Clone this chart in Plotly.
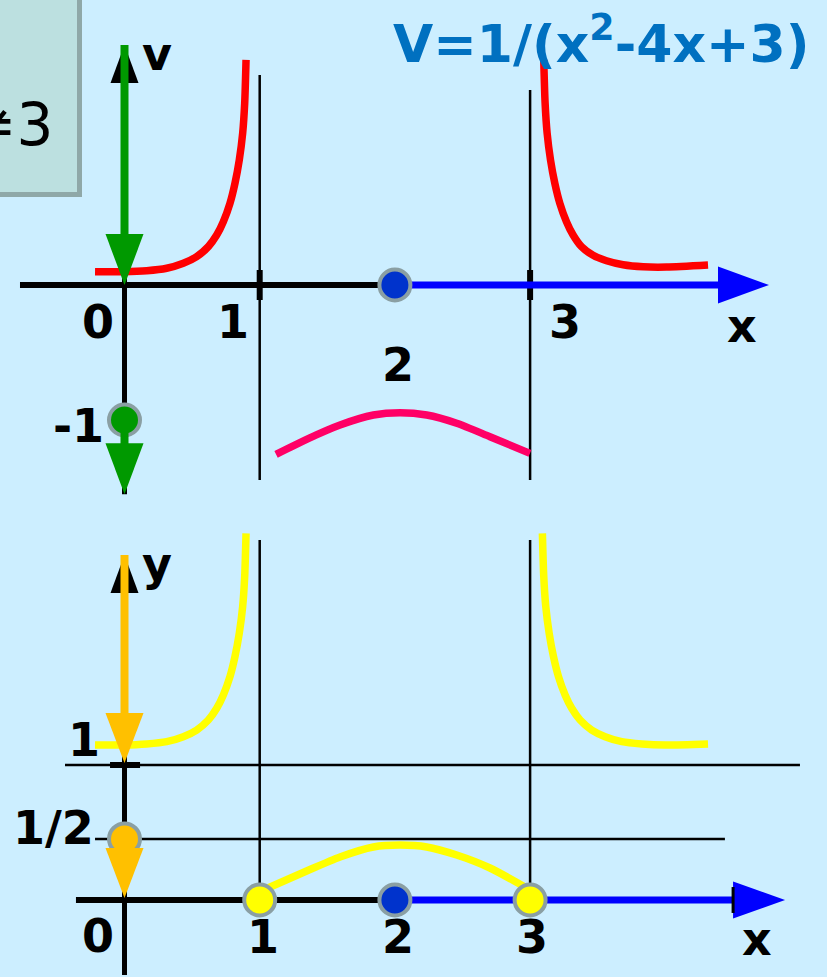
import plotly.graph_objects as go

# ---------------- data (math units) ----------------
asymptotes = [1, 3]
zero_x = 2

red_left_x = [-0.218, -0.009, 0.164, 0.312, 0.435, 0.534, 0.620, 0.682, 0.731, 0.780,
              0.817, 0.849, 0.874, 0.889, 0.899]
red_left_v = [0.099, 0.099, 0.106, 0.124, 0.161, 0.210, 0.284, 0.370, 0.469, 0.605,
              0.753, 0.926, 1.124, 1.346, 1.667]

red_right_x = [3.101, 3.111, 3.126, 3.151, 3.183, 3.220, 3.269, 3.318, 3.380, 3.466,
               3.565, 3.688, 3.836, 4.009, 4.316]
red_right_v = [1.667, 1.346, 1.124, 0.926, 0.753, 0.605, 0.469, 0.370, 0.284, 0.220,
               0.180, 0.150, 0.135, 0.133, 0.148]

pink_x = [1.121, 1.347, 1.594, 1.841, 2.038, 2.235, 2.457, 2.703, 2.999]
pink_v = [-1.254, -1.143, -1.037, -0.963, -0.946, -0.963, -1.024, -1.124, -1.247]

yel_left_x = [-0.218, -0.009, 0.164, 0.312, 0.435, 0.534, 0.620, 0.682, 0.731, 0.780,
              0.817, 0.849, 0.874, 0.889, 0.899]
yel_left_y = [1.148, 1.148, 1.156, 1.173, 1.210, 1.259, 1.333, 1.420, 1.519, 1.655,
              1.803, 1.976, 2.173, 2.396, 2.716]

yel_right_x = [3.091, 3.101, 3.116, 3.141, 3.173, 3.210, 3.259, 3.308, 3.370, 3.456,
               3.555, 3.678, 3.826, 3.999, 4.316]
yel_right_y = [2.716, 2.396, 2.173, 1.976, 1.803, 1.655, 1.519, 1.420, 1.333, 1.259,
               1.210, 1.173, 1.156, 1.148, 1.156]

yel_mid_x = [1.061, 1.347, 1.594, 1.841, 2.038, 2.235, 2.457, 2.703, 2.962]
yel_mid_y = [0.089, 0.215, 0.319, 0.393, 0.407, 0.393, 0.333, 0.237, 0.096]

v_point = -1
y_levels = [1.0, 0.452]          # "1" and "1/2" levels as drawn
y_level_labels = ["1", "1/2"]
top_tick_labels = ["0", "1", "2", "3"]
bottom_tick_labels = ["0", "1", "2", "3"]
title_text = "V=1/(x<sup>2</sup>-4x+3)"
box_text = "x≠1, x≠3"

# ---------------- layout constants ----------------
W, H = 827, 977
X0PX, SX = 124.5, 135.2      # x=0 pixel, px per unit
V0PX, Y0PX, SY = 285.0, 900.0, 135.0

BG = "#cceeff"
BLACK = "#000000"
BLUE = "#0000ff"
GREEN = "#009900"
ORANGE = "#ffc000"
RED = "#ff0000"
PINK = "#ff0066"
YELLOW = "#ffff00"
RING = "#8a9fa3"
FONT = "DejaVu Sans"

shapes = []


def line(x0, y0, x1, y1, yref, color, width, layer="below"):
    shapes.append(dict(type="line", xref="x", yref=yref, x0=x0, y0=y0, x1=x1, y1=y1,
                       line=dict(color=color, width=width), layer=layer))


def tri(tx, ty, direction, length_px, half_px, yref, color, layer="above"):
    if direction == "right":
        b = tx - length_px / SX
        pts = [(tx, ty), (b, ty + half_px / SY), (b, ty - half_px / SY)]
    elif direction == "down":
        b = ty + length_px / SY
        pts = [(tx, ty), (tx - half_px / SX, b), (tx + half_px / SX, b)]
    else:  # up
        b = ty - length_px / SY
        pts = [(tx, ty), (tx - half_px / SX, b), (tx + half_px / SX, b)]
    path = "M " + " L ".join(f"{px},{py}" for px, py in pts) + " Z"
    shapes.append(dict(type="path", xref="x", yref=yref, path=path,
                       fillcolor=color, line=dict(width=0), layer=layer))
    return b


# ---------- top-left box ----------
shapes.append(dict(type="rect", xref="paper", yref="paper",
                   x0=-0.01, x1=79.5 / W, y0=1 - 194.5 / H, y1=1.01,
                   fillcolor="#bce0e0", line=dict(color="#8fa8a8", width=5), layer="below"))

# ---------- top panel ----------
for a in asymptotes:
    line(a, 1.556 if a == 1 else 1.444, a, -1.444, "y", BLACK, 2.5)
    line(a, 0.111, a, -0.111, "y", BLACK, 6)
line(-0.773, 0, zero_x, 0, "y", BLACK, 6)
line(0, 1.778, 0, -1.55, "y", BLACK, 5)
# blue x-arrow
bx = tri(4.767, 0, "right", 51, 18.5, "y", BLUE, layer="below")
line(zero_x, 0, bx + 0.02, 0, "y", BLUE, 7)
# green v arrow
tri(0, 1.778, "up", 38, 14, "y", BLACK)
b = tri(0, 0.0, "down", 51, 19, "y", GREEN)
line(0, 1.778, 0, b - 0.02, "y", GREEN, 8, layer="above")
b = tri(0, -1.55, "down", 51, 19, "y", GREEN)
line(0, v_point, 0, b - 0.02, "y", GREEN, 8, layer="above")

# ---------- bottom panel ----------
for a in asymptotes:
    line(a, 2.667, a, 0.111, "y2", BLACK, 2.5)
line(-0.440, y_levels[0], 4.996, y_levels[0], "y2", BLACK, 2.5)
line(-0.218, y_levels[1], 4.441, y_levels[1], "y2", BLACK, 2.5)
line(-0.107, y_levels[0], 0.115, y_levels[0], "y2", BLACK, 6)
line(-0.359, 0, zero_x, 0, "y2", BLACK, 6)
line(0, 2.556, 0, -0.556, "y2", BLACK, 5)
bx = tri(4.886, 0, "right", 52, 18.5, "y2", BLUE, layer="below")
line(zero_x, 0, bx + 0.02, 0, "y2", BLUE, 7)
line(bx, 0.096, bx, -0.096, "y2", BLACK, 3)
tri(0, 2.556, "up", 38, 14, "y2", BLACK)
b = tri(0, y_levels[0] + 0.015, "down", 50, 19, "y2", ORANGE)
line(0, 2.556, 0, b - 0.02, "y2", ORANGE, 8, layer="above")
b = tri(0, 0.015, "down", 50, 19, "y2", ORANGE)
line(0, y_levels[1], 0, b - 0.02, "y2", ORANGE, 8, layer="above")

fig = go.Figure()


def curve(x, y, color, yaxis):
    fig.add_trace(go.Scatter(x=x, y=y, mode="lines", yaxis=yaxis, hoverinfo="skip",
                             line=dict(color=color, width=7.5, shape="spline", smoothing=0.7)))


curve(red_left_x, red_left_v, RED, "y")
curve(red_right_x, red_right_v, RED, "y")
curve(pink_x, pink_v, PINK, "y")
curve(yel_left_x, yel_left_y, YELLOW, "y2")
curve(yel_right_x, yel_right_y, YELLOW, "y2")
curve(yel_mid_x, yel_mid_y, YELLOW, "y2")


def dots(x, y, color, yaxis):
    fig.add_trace(go.Scatter(x=x, y=y, mode="markers", yaxis=yaxis, hoverinfo="skip",
                             marker=dict(size=31, color=color, line=dict(color=RING, width=4))))


dots([zero_x], [0], "#0033cc", "y")
dots([0], [v_point], GREEN, "y")
dots([zero_x], [0], "#0033cc", "y2")
dots(asymptotes, [0, 0], YELLOW, "y2")
dots([0], [y_levels[1]], ORANGE, "y2")

ann = []


def lab(text, x, y, yref, xshift=0, yshift=0, size=46):
    ann.append(dict(text=text, x=x, y=y, xref="x", yref=yref, xshift=xshift, yshift=yshift,
                    showarrow=False, xanchor="center", yanchor="middle",
                    font=dict(family=FONT, size=size, color=BLACK, weight="bold")))


# top labels
lab(top_tick_labels[0], 0, -0.274, "y", xshift=-27)
lab(top_tick_labels[1], 1, -0.274, "y", xshift=-27)
lab(top_tick_labels[2], 2, -0.593, "y", xshift=3)
lab(top_tick_labels[3], 3, -0.274, "y", xshift=35)
lab("x", 4.567, -0.304, "y")
lab("v", 0.24, 1.71, "y")
lab("-1", 0, v_point, "y", xshift=-46, yshift=-6)
# bottom labels
lab("y", 0.24, 2.49, "y2")
lab(y_level_labels[0], 0, 1.185, "y2", xshift=-41)
lab(y_level_labels[1], 0, 0.533, "y2", xshift=-71)
lab(bottom_tick_labels[0], 0, -0.267, "y2", xshift=-27)
lab(bottom_tick_labels[1], 1, -0.274, "y2", xshift=3)
lab(bottom_tick_labels[2], 2, -0.274, "y2", xshift=3)
lab(bottom_tick_labels[3], 3, -0.274, "y2", xshift=2)
lab("x", 4.678, -0.289, "y2")

ann.append(dict(text=title_text, x=811 / W, y=1 - 40 / H, xref="paper", yref="paper",
                xanchor="right", yanchor="middle", showarrow=False,
                font=dict(family=FONT, size=52, color="#0070c0", weight="bold")))
ann.append(dict(text=box_text, x=56 / W, y=1 - 125 / H, xref="paper", yref="paper",
                xanchor="right", yanchor="middle", showarrow=False,
                font=dict(family=FONT, size=58, color=BLACK)))

fig.update_layout(
    width=W, height=H, margin=dict(l=0, r=0, t=0, b=0),
    paper_bgcolor=BG, plot_bgcolor=BG, showlegend=False,
    xaxis=dict(range=[-X0PX / SX, (W - X0PX) / SX], visible=False, fixedrange=True),
    yaxis=dict(range=[(V0PX - H) / SY, V0PX / SY], visible=False, fixedrange=True),
    yaxis2=dict(range=[(Y0PX - H) / SY, Y0PX / SY], visible=False, overlaying="y", fixedrange=True),
    shapes=shapes, annotations=ann,
)

fig.write_html("out.html", config={"displayModeBar": False},
               post_script="document.body.style.margin='0';document.body.style.overflow='hidden';")
